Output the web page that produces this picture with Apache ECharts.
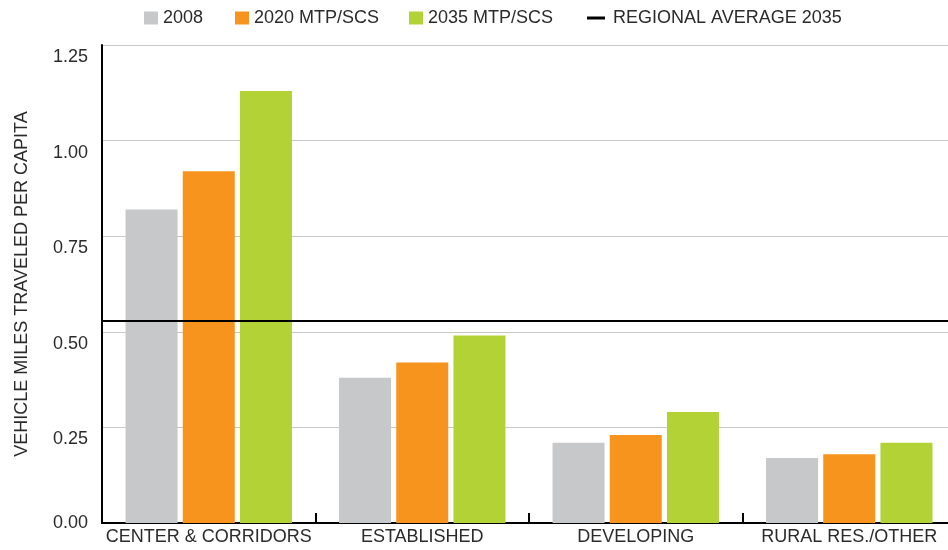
<!DOCTYPE html>
<html>
<head>
<meta charset="utf-8">
<script src="https://cdn.jsdelivr.net/npm/echarts@6/dist/echarts.min.js"></script>
<style>
html,body{margin:0;padding:0;background:#fff;}
#chart{width:948px;height:550px;}
</style>
</head>
<body>
<div id="chart"></div>
<script>
const categories = ['CENTER & CORRIDORS', 'ESTABLISHED', 'DEVELOPING', 'RURAL RES./OTHER'];
const values2008 = [0.82, 0.38, 0.21, 0.17];
const values2020 = [0.92, 0.42, 0.23, 0.18];
const values2035 = [1.13, 0.49, 0.29, 0.21];
const regionalAverage2035 = 0.53;
const yTicks = [0, 0.25, 0.5, 0.75, 1.0, 1.25];
const seriesNames = ['2008', '2020 MTP/SCS', '2035 MTP/SCS', 'REGIONAL AVERAGE 2035'];

const FONT = '"Liberation Sans", Arial, sans-serif';
const TXT = '#2b2b2b';
const colors = ['#c7c8ca', '#f7941d', '#b2d235'];

const chart = echarts.init(document.getElementById('chart'), null, {renderer: 'canvas'});
const barData = [values2008, values2020, values2035];

const series = barData.map((d, i) => ({
  name: seriesNames[i],
  type: 'bar',
  data: d,
  barWidth: 52,
  barGap: '10%',
  itemStyle: {color: colors[i]},
  emphasis: {disabled: true}
}));
series.push({
  name: seriesNames[3],
  type: 'line',
  data: [],
  itemStyle: {color: '#000'},
  lineStyle: {color: '#000'},
  z: 5,
  markLine: {
    silent: true,
    symbol: 'none',
    label: {show: false},
    lineStyle: {color: '#000', width: 2, type: 'solid'},
    data: [{yAxis: regionalAverage2035}]
  }
});

const legendLefts = [144, 235, 409, 587];
const legendIcons = ['rect', 'rect', 'rect', 'path://M0,0H18V3H0Z'];
const legends = seriesNames.map((n, i) => ({
  top: 9,
  left: legendLefts[i],
  padding: 0,
  itemWidth: i === 3 ? 18 : 14,
  itemHeight: 13,
  selectedMode: false,
  textStyle: {fontFamily: FONT, fontSize: 18, color: TXT, padding: i === 3 ? [0, 0, 0, 3] : 0},
  data: [{name: n, icon: legendIcons[i]}]
}));

chart.setOption({
  animation: false,
  textStyle: {fontFamily: FONT},
  legend: legends,
  grid: {left: 102, right: -8, top: 45, bottom: 27, containLabel: false, outerBoundsMode: 'none'},
  xAxis: {
    type: 'category',
    data: categories,
    boundaryGap: true,
    axisLine: {lineStyle: {color: '#000', width: 2}},
    axisTick: {show: true, inside: true, length: 10, lineStyle: {color: '#000', width: 2}},
    axisLabel: {fontFamily: FONT, fontSize: 18, color: TXT, margin: 5, interval: 0}
  },
  yAxis: {
    type: 'value',
    min: yTicks[0],
    max: yTicks[yTicks.length - 1],
    interval: 0.25,
    name: 'VEHICLE MILES TRAVELED PER CAPITA',
    nameLocation: 'middle',
    nameGap: 71,
    nameRotate: 90,
    nameTextStyle: {fontFamily: FONT, fontSize: 18, color: TXT},
    axisLine: {show: true, lineStyle: {color: '#000', width: 2}},
    axisTick: {show: false},
    axisLabel: {
      fontFamily: FONT, fontSize: 18, color: TXT, margin: 14,
      formatter: v => v === 0 ? '{z|' + v.toFixed(2) + '}' : '{n|' + v.toFixed(2) + '}',
      rich: {
        z: {fontFamily: FONT, fontSize: 18, color: TXT},
        n: {fontFamily: FONT, fontSize: 18, color: TXT, padding: [24, 0, 0, 0]}
      }
    },
    splitLine: {show: true, lineStyle: {color: '#c8c8c8', width: 1}}
  },
  series: series
});
</script>
</body>
</html>
